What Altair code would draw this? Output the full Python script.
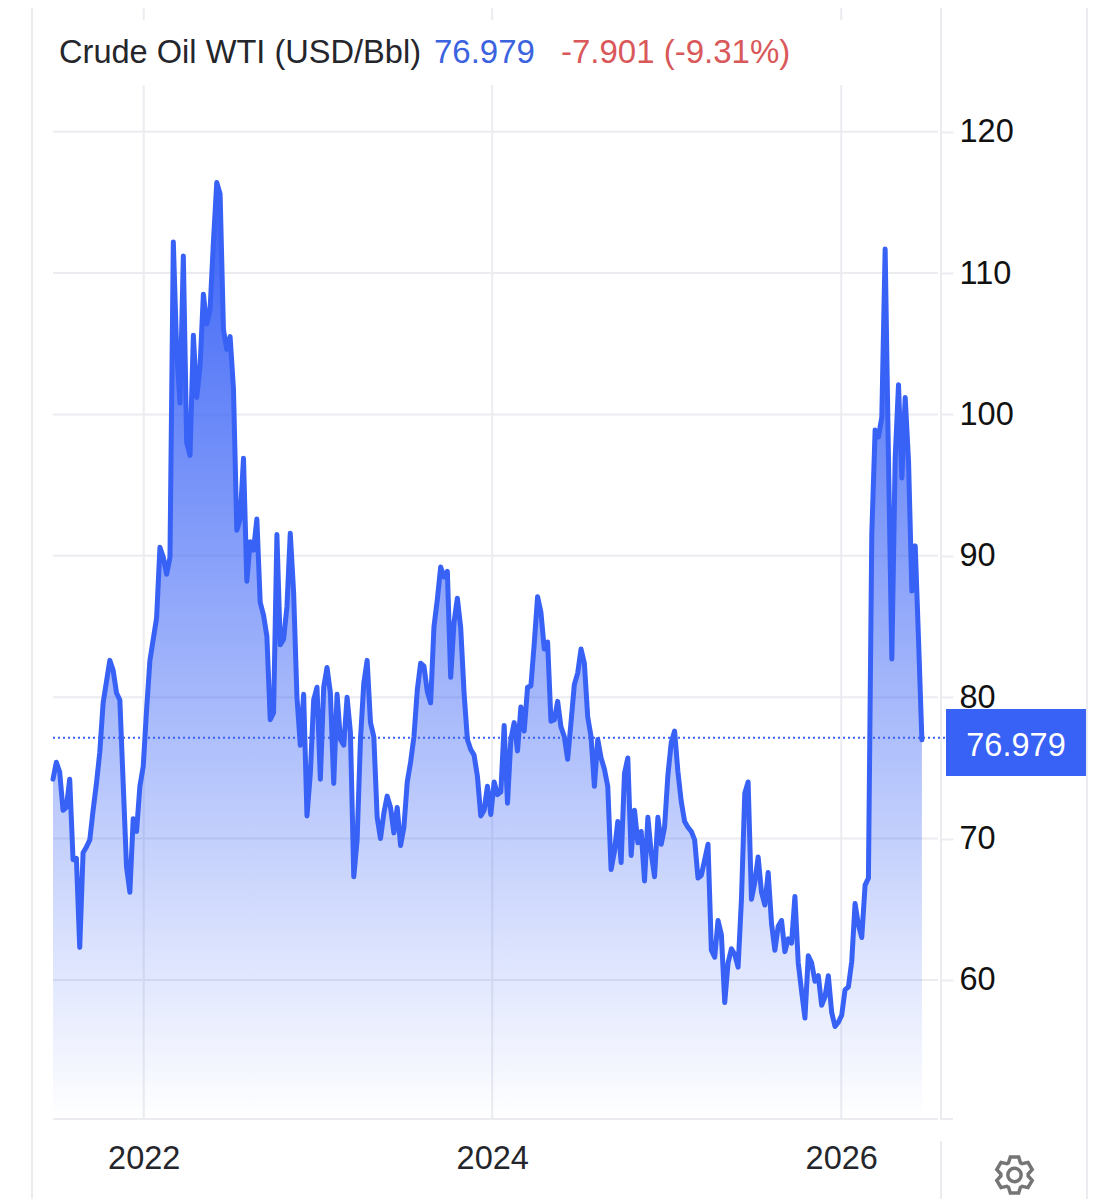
import math

import altair as alt
import pandas as pd

# Weekly closes, 2021-06-25 .. 2026-06-19
values = [
74.2,75.4,74.7,72.0,72.2,74.2,68.5,68.6,62.3,69.0,69.4,69.9,72.0,73.9,76.1,79.6,81.1,82.6,81.9,80.3,
79.8,73.9,68.0,66.2,71.4,70.5,73.7,75.1,79.1,82.6,84.1,85.6,90.6,89.9,88.7,89.9,112.2,104.6,100.8,111.2,
98.0,97.1,105.6,101.2,103.4,108.5,106.4,107.4,112.2,116.4,115.6,106.0,104.6,105.5,101.8,91.8,92.6,96.9,88.2,91.0,
90.4,92.6,86.7,85.8,84.3,78.4,78.9,91.5,83.7,84.1,86.4,91.6,87.4,80.0,76.6,80.2,71.6,74.6,79.8,80.7,
74.2,80.7,82.1,80.3,73.9,80.2,77.0,76.6,80.0,77.5,67.3,69.9,77.0,81.0,82.6,78.2,77.2,71.5,70.0,71.8,
73.0,72.2,70.4,72.2,69.5,70.8,74.0,75.4,77.2,80.5,82.4,82.2,80.4,79.6,85.0,86.9,89.2,88.5,88.9,81.4,
85.3,87.0,84.9,80.3,77.0,76.3,75.9,74.4,71.6,72.0,73.7,71.7,74.0,73.1,73.3,78.0,72.5,77.0,78.2,76.2,
79.3,77.6,80.7,80.8,83.8,87.1,86.0,83.4,83.9,78.3,78.4,79.7,77.9,77.2,75.6,78.2,80.9,81.7,83.4,82.4,
78.6,77.2,73.7,77.0,75.7,74.9,73.7,67.8,69.1,71.2,68.3,74.6,75.7,68.8,72.0,69.7,70.5,67.0,71.5,69.0,
67.3,71.5,69.6,70.8,74.5,76.8,77.6,74.7,72.6,71.2,70.8,70.5,69.9,67.2,67.4,68.5,69.6,62.1,61.6,64.2,
63.2,58.4,61.2,62.2,61.8,60.9,65.7,73.2,74.0,65.7,66.9,68.7,66.2,65.3,67.6,64.0,62.1,63.8,64.2,62.0,
62.9,62.6,65.9,61.2,59.2,57.3,61.7,61.2,59.9,60.3,58.2,58.8,60.3,57.7,56.7,57.0,57.5,59.3,59.5,61.3,
65.4,63.9,63.0,66.7,67.2,91.5,98.9,98.4,99.8,111.7,96.9,82.7,96.9,102.1,95.5,101.2,96.7,87.5,90.7,84.0,
76.979,
]
dates = pd.date_range("2021-06-25", periods=len(values), freq="7D")
y_ticks = [60, 70, 80, 90, 100, 110, 120]
x_ticks = ["2022-01-01", "2024-01-01", "2026-01-01"]
last_value = 76.979
title_parts = ["Crude Oil WTI (USD/Bbl)", "76.979", "-7.901 (-9.31%)"]
price_label = "76.979"

BLUE = "#3861f6"
GRID = "#ebecf0"
FONT = "Liberation Sans"
X_DOMAIN = ["2021-06-25", "2026-07-29"]
Y_DOMAIN = [50.16, 123.3]

x_scale = alt.Scale(domain=X_DOMAIN)
y_scale = alt.Scale(domain=Y_DOMAIN)

df = pd.DataFrame({"date": dates, "v": values})
one = pd.DataFrame({"a": [0]})
grid_df = pd.DataFrame({"v": y_ticks})
xt_df = pd.DataFrame({"date": pd.to_datetime(x_ticks)})
last_df = pd.DataFrame({"v": [last_value]})


def gear_path():
    pts = []
    for k in range(6):
        a = 90 + 60 * k
        for da, r in ((-26, 0.74), (-13, 1.0), (13, 1.0), (26, 0.74)):
            t = math.radians(a + da)
            pts.append(f"{r * math.cos(t):.3f} {r * math.sin(t):.3f}")
    ring = "M0.36 0 A0.36 0.36 0 1 0 -0.36 0 A0.36 0.36 0 1 0 0.36 0 Z"
    return "M" + " L".join(pts) + " Z " + ring


def chrome_v(x, y0, y2):
    return alt.Chart(one).mark_rule(color=GRID, strokeWidth=2).encode(
        x=alt.value(x), y=alt.value(y0), y2=alt.value(y2))


def txt(s, x, y, size=33, color="#25262b", align="left"):
    return alt.Chart(pd.DataFrame({"t": [s]})).mark_text(
        font=FONT, fontSize=size, color=color, align=align, baseline="middle"
    ).encode(x=alt.value(x), y=alt.value(y), text="t:N")


y_axis = alt.Axis(orient="right", values=y_ticks, grid=False, domain=False,
                  tickSize=12, tickColor=GRID, tickWidth=2,
                  labelFont=FONT, labelFontSize=32.5, labelColor="#111111",
                  labelPadding=6, labelFlush=False)
x_axis = alt.Axis(values=[alt.DateTime(year=2022, month=1, date=1),
                          alt.DateTime(year=2024, month=1, date=1),
                          alt.DateTime(year=2026, month=1, date=1)],
                  format="%Y", grid=False, domain=False, ticks=False,
                  labelFont=FONT, labelFontSize=32.5, labelColor="#25262b",
                  labelPadding=23, labelFlush=False)
x_enc = alt.X("date:T", scale=x_scale, title=None, axis=x_axis)
y_enc = alt.Y("v:Q", scale=y_scale, title=None, axis=y_axis)

hgrid = alt.Chart(grid_df).mark_rule(color=GRID, strokeWidth=2).encode(
    y=y_enc, x=alt.value(0), x2=alt.value(885))
vgrid = alt.Chart(xt_df).mark_rule(color=GRID, strokeWidth=2).encode(x=x_enc)
vstub = alt.Chart(xt_df).mark_rule(color=GRID, strokeWidth=2).encode(
    x=x_enc, y=alt.value(-77), y2=alt.value(-65))
base_line = alt.Chart(one).mark_rule(color=GRID, strokeWidth=2).encode(
    x=alt.value(0), x2=alt.value(885), y=alt.value(1034))
tick_base = alt.Chart(one).mark_rule(color=GRID, strokeWidth=2).encode(
    x=alt.value(888), x2=alt.value(900), y=alt.value(1034))

area = alt.Chart(df).mark_area(
    line=False,
    color=alt.Gradient(
        gradient="linear",
        stops=[alt.GradientStop(color="rgba(56,97,246,1)", offset=0),
               alt.GradientStop(color="rgba(56,97,246,0)", offset=1)],
        x1=0, x2=0, y1=0, y2=1),
).encode(x=x_enc, y=y_enc, y2=alt.datum(Y_DOMAIN[0]))

line = alt.Chart(df).mark_line(color=BLUE, strokeWidth=5, strokeJoin="round", strokeCap="round").encode(
    x=x_enc, y=y_enc)

dotted = alt.Chart(last_df).mark_rule(color=BLUE, strokeWidth=2, strokeDash=[2, 3], yOffset=-2).encode(
    y=y_enc, x=alt.value(0), x2=alt.value(893))

price_box = alt.Chart(one).mark_rect(color=BLUE).encode(
    x=alt.value(893), x2=alt.value(1033), y=alt.value(624), y2=alt.value(691))

gear = alt.Chart(one).mark_point(
    shape=gear_path(), size=1369, filled=False, color="#757575", strokeWidth=3.5, opacity=1
).encode(x=alt.value(961.5), y=alt.value(1090))

chart = alt.layer(
    chrome_v(-21, -77, 1115),
    chrome_v(1034, -77, 1115),
    chrome_v(888, -77, 1035),
    chrome_v(888, 1056, 1115),
    vstub, vgrid, hgrid, base_line, tick_base,
    area, line, dotted, price_box,
    txt(price_label, 963, 661, size=32.5, color="#ffffff", align="center"),
    txt(title_parts[0], 6, -32, size=32.6),
    txt(title_parts[1], 381, -32, color="#3b63e0"),
    txt(title_parts[2], 508, -32, color="#d9585a"),
    gear,
).properties(
    width=888, height=1034,
    padding={"left": 45, "top": 77, "right": 170, "bottom": 80},
    autosize=alt.AutoSizeParams(type="none"),
    background="white",
).configure_view(stroke=None)

chart.save("out.html", embed_options={"renderer": "svg", "actions": False})
